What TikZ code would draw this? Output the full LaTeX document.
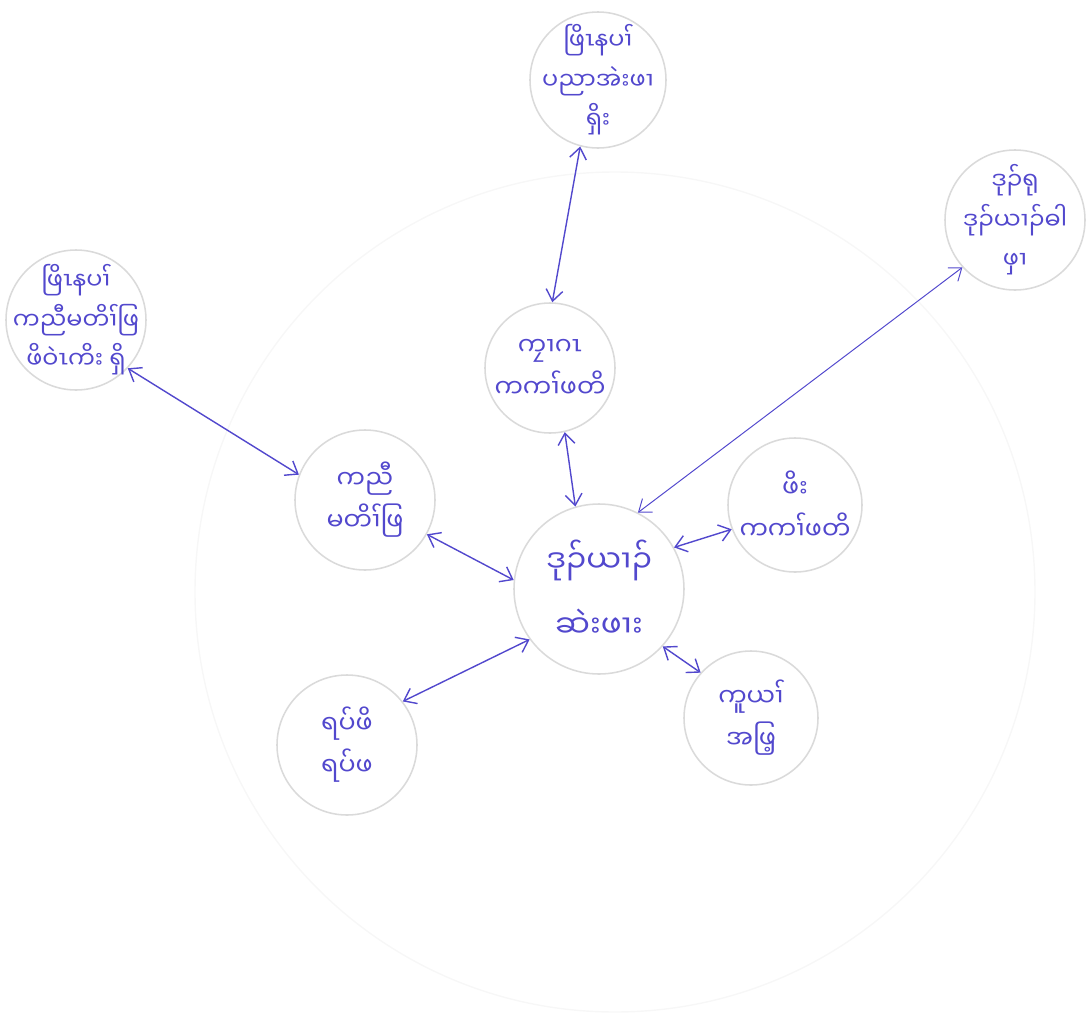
\documentclass[tikz,border=0pt]{standalone}
\usepackage{fontspec}
\usetikzlibrary{arrows.meta}
\newfontfamily\mymr[Script=Myanmar]{Noto Sans Myanmar UI}
\definecolor{PenInk}{RGB}{82,72,205}
\definecolor{RimGrey}{RGB}{218,218,218}

\begin{document}
\begin{tikzpicture}[x=0.025cm,y=-0.025cm,
bubble/.style={circle,draw=RimGrey,line width=1.1pt,minimum size=136*0.025cm,inner sep=-9pt,align=center,text=PenInk,font=\mymr\fontsize{18}{30}\selectfont},
trio/.style={bubble,font=\mymr\fontsize{17}{28}\selectfont},
hub/.style={bubble,minimum size=170*0.025cm,inner sep=0pt,font=\mymr\fontsize{22}{46}\selectfont},
link/.style={{Straight Barb[length=2.8mm,width=4.2mm]}-{Straight Barb[length=2.8mm,width=4.2mm]},draw=PenInk,line width=1pt}
]
\useasboundingbox (0,0) rectangle (1087,1027);
% faint ring behind the map
\draw[gray!6,line width=1pt] (615,592) circle[radius=420*0.025cm];
\node[hub] (core) at (599,589) {ဒုၣ်ယၢၣ်\\ဆဲးဖၢး};
\node[trio] (up) at (598,80) {ဖြိၤနပၢ်\\ပညာအဲးဖၢ\\ရှိး};
\node[trio,minimum size=140*0.025cm] (farup) at (1015,220) {ဒုၣ်ရု\\ဒုၣ်ယၢၣ်ဓါ\\ဖှၢ};
\node[trio,minimum size=140*0.025cm] (farleft) at (76,320) {ဖြိၤနပၢ်\\ကညီမတိၢ်ဖြ\\ဖိဝဲၤကိး ရှိ};
\node[bubble,minimum size=130*0.025cm] (midup) at (550,368) {ကၠၢဂၤ\\ကကၢ်ဖတိ};
\node[bubble,minimum size=140*0.025cm] (midleft) at (365,500) {ကညီ\\မတိၢ်ဖြ};
\node[bubble,minimum size=134*0.025cm] (midright) at (795,505) {ဖိး\\ကကၢ်ဖတိ};
\node[bubble,minimum size=140*0.025cm] (lowleft) at (347,745) {ရပ်ဖိ\\ရပ်ဖ};
\node[bubble,minimum size=134*0.025cm] (lowright) at (751,718) {ကူယၢ်\\အဖြ့};
\draw[link] (up.-105)--(midup.88);
\draw[link] (midup.-77)--(core.106);
\draw[link,line width=0.7pt] (farup.-138)--(core.63);
\draw[link] (farleft.-43)--(midleft.159);
\draw[link] (midleft.-29)--(core.174);
\draw[link] (midright.-159)--(core.29);
\draw[link] (lowleft.38)--(core.-144);
\draw[link] (lowright.138)--(core.-42);
\end{tikzpicture}
\end{document}
